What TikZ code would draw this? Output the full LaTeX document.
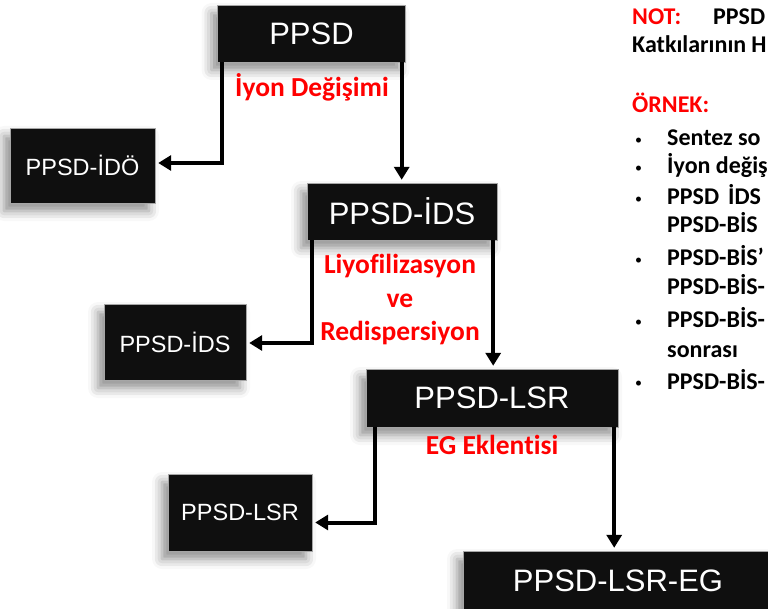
\documentclass[tikz,border=0pt]{standalone}
\usepackage{fontspec}
\setmainfont[Ligatures=NoCommon]{Carlito}
\newfontfamily\boxfont{Liberation Sans}
\usetikzlibrary{arrows.meta,shadows.blur}
\definecolor{boxblack}{HTML}{0F0F0F}
\definecolor{notered}{HTML}{FF0000}

\begin{document}
\begin{tikzpicture}[x=1pt,y=-1pt]
  \tikzstyle{stage} = [fill=boxblack,draw=gray!70,line width=0.4pt,text=white,inner sep=0pt,
    blur shadow={shadow xshift=-6pt,shadow yshift=-8pt,shadow blur radius=10pt,shadow opacity=45}]
  \tikzstyle{bigstage} = [stage,font=\boxfont\fontsize{31}{37}\selectfont]
  \tikzstyle{sidestage} = [stage,font=\boxfont\fontsize{23.5}{28}\selectfont]
  \tikzstyle{flow} = [line width=4pt,shorten >=3pt,-{Triangle[width=15pt,length=13pt]}]
  \tikzstyle{steplabel} = [text=notered,font=\bfseries\fontsize{27.5}{33.5}\selectfont,align=center]
  \tikzstyle{note} = [anchor=base west,font=\bfseries\fontsize{24}{29}\selectfont,inner sep=0pt]
  \tikzstyle{dot} = [anchor=base west,font=\fontsize{14}{16}\selectfont,inner sep=0pt]
  %
  \clip (0,0) rectangle (768,609);
  % Main stages.
  \node[bigstage,minimum width=188pt,minimum height=57pt] (ppsd) at (311.5,33.5) {PPSD};
  \node[bigstage,minimum width=190pt,minimum height=57pt] (ids) at (402,211.5) {PPSD-İDS};
  \node[bigstage,minimum width=252pt,minimum height=58pt] (lsr) at (492,398) {PPSD-LSR};
  \node[bigstage,minimum width=310pt,minimum height=60pt] (lsreg) at (618,581) {PPSD-LSR-EG};
  % Side stages.
  \node[sidestage,minimum width=145pt,minimum height=75pt] (ido) at (82.5,165.5) {PPSD-İDÖ};
  \node[sidestage,minimum width=142pt,minimum height=76pt] (idsside) at (175,342) {PPSD-İDS};
  \node[sidestage,minimum width=144pt,minimum height=77pt] (lsrside) at (240,512.5) {PPSD-LSR};
  % Draw arrows.
  \draw[flow] ([xshift=4.5pt]ppsd.south west) |- ([yshift=2.5pt]ido.east);
  \draw[flow] ([xshift=-4pt]ppsd.south east) -- ([xshift=-4pt]ppsd.south east |- ids.north);
  \draw[flow] ([xshift=5pt]ids.south west) |- ([yshift=-1pt]idsside.east);
  \draw[flow] ([xshift=-4pt]ids.south east) -- ([xshift=-4pt]ids.south east |- lsr.north);
  \draw[flow] ([xshift=9pt]lsr.south west) |- ([yshift=-10pt]lsrside.east);
  \draw[flow] ([xshift=-4pt]lsr.south east) -- ([xshift=-4pt]lsr.south east |- lsreg.north);
  % Step labels.
  \node[steplabel] (iyon) at (312,87) {İyon Değişimi};
  \node[steplabel] (liyo) at (400,300) {Liyofilizasyon\\ve\\Redispersiyon};
  \node[steplabel] (eg) at (492,445) {EG Eklentisi};
  % Note on the right.
  \node[note,text=notered] (not) at (632,25) {NOT:};
  \node[note] (notppsd) at (713,25) {PPSD};
  \node[note] (katki) at (632,53) {Katkılarının\hspace{5pt}H};
  \node[note,text=notered] (ornek) at (632,113) {ÖRNEK:};
  \foreach \y in {145,173,204,265,327,388}
    \node[dot] at (635,\y) {•};
  \node[note] (n1) at (667,146) {Sentez so};
  \node[note] (n2) at (667,174) {İyon değiş};
  \node[note] (n3) at (667,205) {PPSD\hspace{9pt}İDS};
  \node[note] (n3b) at (667,233) {PPSD-BİS};
  \node[note] (n4) at (667,266) {PPSD-BİS’};
  \node[note] (n4b) at (667,295) {PPSD-BİS-};
  \node[note] (n5) at (667,328) {PPSD-BİS-};
  \node[note] (n5b) at (667,357) {sonrası};
  \node[note] (n6) at (667,389) {PPSD-BİS-};
\end{tikzpicture}
\end{document}
